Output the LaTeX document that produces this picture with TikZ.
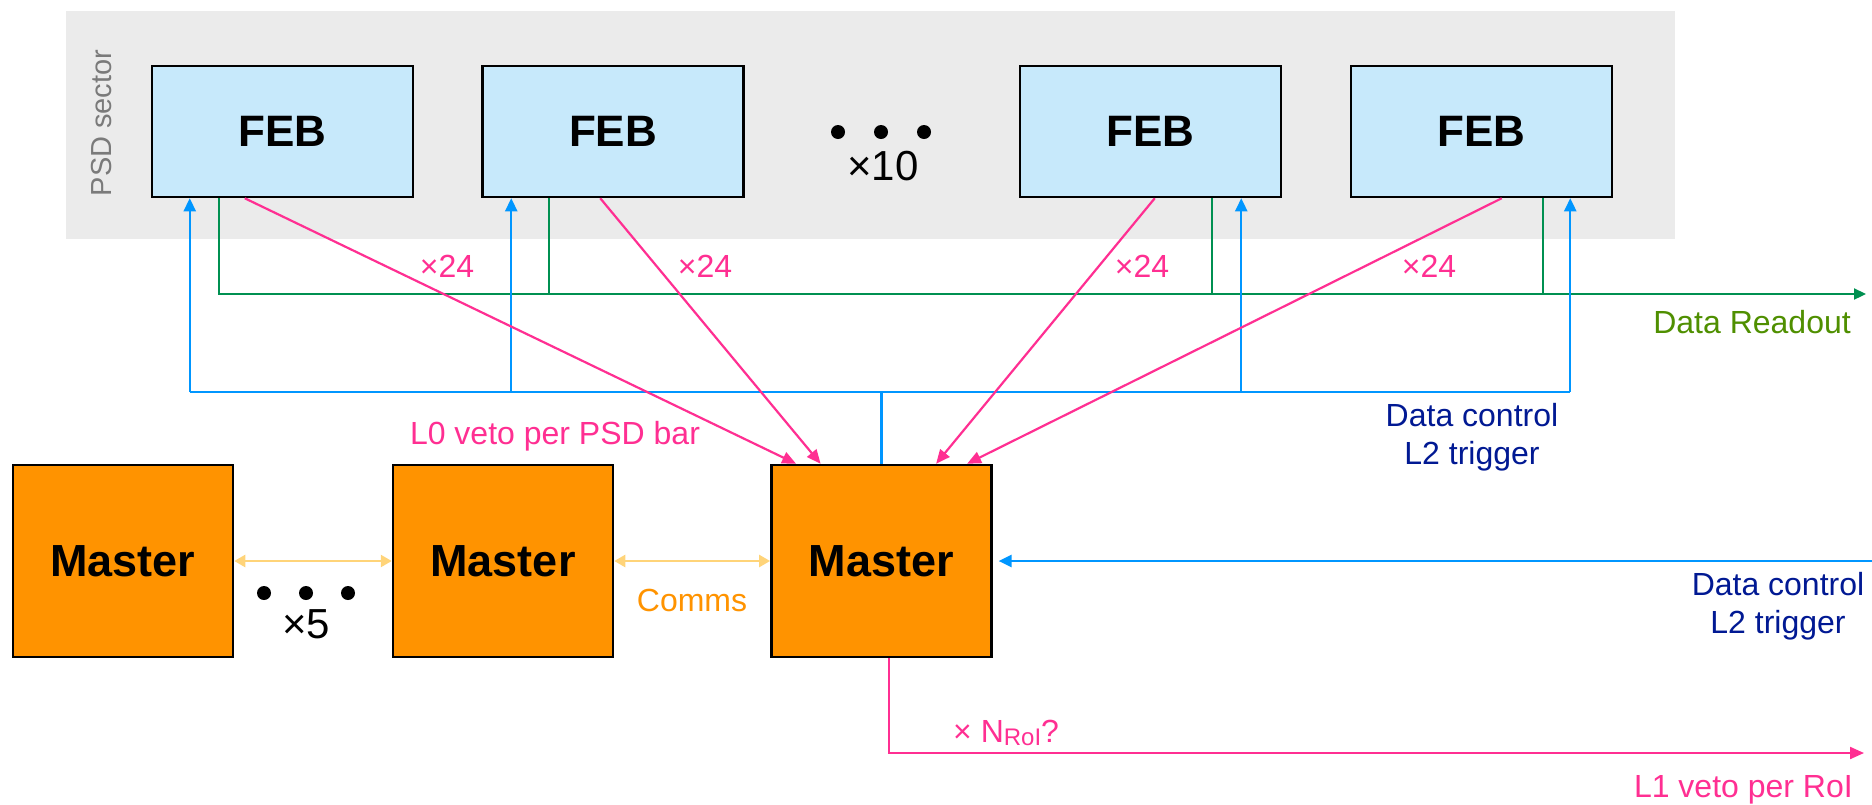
\documentclass[tikz,border=0pt]{standalone}
\usepackage{fontspec}
\setmainfont{Liberation Sans}
\usetikzlibrary{arrows.meta}

\definecolor{bggray}{HTML}{EBEBEB}
\definecolor{febblue}{HTML}{C7E9FB}
\definecolor{mstorange}{HTML}{FF9300}
\definecolor{pinkline}{HTML}{FF2F92}
\definecolor{blueline}{HTML}{0096FF}
\definecolor{greenline}{HTML}{009051}
\definecolor{greentext}{HTML}{4F8F00}
\definecolor{navytext}{HTML}{011993}
\definecolor{commsline}{HTML}{FFD479}
\definecolor{sectorgray}{HTML}{7A7A7A}

\tikzset{
  febbox/.style={draw=black, line width=2.5pt, fill=febblue, minimum width=261pt, minimum height=131pt,
    inner sep=0pt, font=\fontsize{44}{50}\selectfont\bfseries},
  masterbox/.style={draw=black, line width=2.5pt, fill=mstorange, minimum width=220pt, minimum height=192pt,
    inner sep=0pt, font=\fontsize{45}{50}\selectfont\bfseries},
  lbl/.style={inner sep=0pt, font=\fontsize{32}{38}\selectfont},
  big/.style={inner sep=0pt, font=\fontsize{42}{48}\selectfont},
  pinkarrow/.style={draw=pinkline, line width=2.2pt, -{Triangle[length=14pt,width=12pt]}},
  bluearrow/.style={draw=blueline, line width=2.3pt, -{Triangle[length=13pt,width=12pt]}},
  blueline/.style={draw=blueline, line width=2.3pt},
  greenline/.style={draw=greenline, line width=2.2pt},
  commsarrow/.style={draw=commsline, line width=2.4pt, {Triangle[length=11pt,width=12pt]}-{Triangle[length=11pt,width=12pt]}},
  dot/.style={circle, fill=black, inner sep=0pt, minimum size=14pt}
}

\begin{document}
\begin{tikzpicture}[x=1pt, y=-1pt]
  \useasboundingbox (0,0) rectangle (1872,804);

  % sector background
  \fill[bggray] (66,11) rectangle (1675,239);
  \node[lbl, rotate=90, text=sectorgray, font=\fontsize{29}{34}\selectfont] (sector) at (102,123) {PSD sector};

  % front-end boards
  \node[febbox] (feb1) at (282.5,131.5) {FEB};
  \node[febbox] (feb2) at (613,131.5) {FEB};
  \node[febbox] (feb3) at (1150.5,131.5) {FEB};
  \node[febbox] (feb4) at (1481.5,131.5) {FEB};
  \node[dot] (fd1) at (838,132) {};
  \node[dot] (fd2) at (881,132) {};
  \node[dot] (fd3) at (924,132) {};
  \node[big] (x10) at (883,166) {×10};

  % master boards
  \node[masterbox] (m1) at (123,561) {Master};
  \node[masterbox] (m2) at (503,561) {Master};
  \node[masterbox] (m3) at (881.35,561) {Master};
  \node[dot] (md1) at (264,593) {};
  \node[dot] (md2) at (306,593) {};
  \node[dot] (md3) at (348,593) {};
  \node[big] (x5) at (306,624) {×5};

  % attachment points on the boards
  \coordinate (g1) at ([xshift=68pt]feb1.south west);
  \coordinate (g2) at ([xshift=68pt]feb2.south west);
  \coordinate (g3) at ([xshift=193pt]feb3.south west);
  \coordinate (g4) at ([xshift=193pt]feb4.south west);
  \coordinate (b1) at ([xshift=39pt]feb1.south west);
  \coordinate (b2) at ([xshift=30pt]feb2.south west);
  \coordinate (b3) at ([xshift=222.5pt]feb3.south west);
  \coordinate (b4) at ([xshift=220.5pt]feb4.south west);
  \coordinate (p1) at ([xshift=94pt]feb1.south west);
  \coordinate (p2) at ([xshift=119pt]feb2.south west);
  \coordinate (p3) at ([xshift=136pt]feb3.south west);
  \coordinate (p4) at ([xshift=152pt]feb4.south west);
  \coordinate (q1) at ([xshift=26pt]m3.north west);
  \coordinate (q2) at ([xshift=50.5pt]m3.north west);
  \coordinate (q3) at ([xshift=166pt]m3.north west);
  \coordinate (q4) at ([xshift=197pt]m3.north west);
  \coordinate (readout) at (1866,294);
  \coordinate (ctrlbus) at (882,392);
  \coordinate (ctrlin) at (1872,561);
  \coordinate (l1out) at ([xshift=7.6pt]m3.south);
  \coordinate (l1end) at (1864,753);

  % data readout bus
  \draw[greenline, -{Triangle[length=12pt,width=11pt]}] (g1) |- (readout);
  \draw[greenline] (g2) -- (g2 |- readout);
  \draw[greenline] (g3) -- (g3 |- readout);
  \draw[greenline] (g4) -- (g4 |- readout);

  % data control bus
  \draw[blueline] (b1 |- ctrlbus) -- (b4 |- ctrlbus);
  \draw[blueline] (m3.north) -- (m3.north |- ctrlbus);
  \draw[bluearrow] (b1 |- ctrlbus) -- (b1);
  \draw[bluearrow] (b2 |- ctrlbus) -- (b2);
  \draw[bluearrow] (b3 |- ctrlbus) -- (b3);
  \draw[bluearrow] (b4 |- ctrlbus) -- (b4);
  \draw[bluearrow] (ctrlin) -- ([xshift=6pt]m3.east);

  % L0 vetoes
  \draw[pinkarrow] (p1) -- (q1);
  \draw[pinkarrow] (p2) -- (q2);
  \draw[pinkarrow] (p3) -- (q3);
  \draw[pinkarrow] (p4) -- (q4);

  % L1 veto output
  \draw[pinkarrow] (l1out) |- (l1end);

  % master-to-master links
  \draw[commsarrow] (m1.east) -- (m2.west);
  \draw[commsarrow] (m2.east) -- (m3.west);

  % labels
  \node[lbl, text=pinkline] (n24a) at (447,266) {×24};
  \node[lbl, text=pinkline] (n24b) at (705,266) {×24};
  \node[lbl, text=pinkline] (n24c) at (1142,266) {×24};
  \node[lbl, text=pinkline] (n24d) at (1429,266) {×24};
  \node[lbl, text=pinkline] (l0lbl) at (555,436) {L0 veto per PSD bar};
  \node[lbl, text=mstorange] (comms) at (692,600) {Comms};
  \node[lbl, text=greentext, anchor=base east] (readlbl) at (1851,333) {Data Readout};
  \node[lbl, text=navytext, align=center] (ctrl1) at (1472,437) {Data control\\L2 trigger};
  \node[lbl, text=navytext, align=center] (ctrl2) at (1778,606) {Data control\\L2 trigger};
  \node[lbl, text=pinkline, anchor=base west] (nroi) at (953,742)
    {× N\raisebox{-3pt}{\fontsize{24}{28}\selectfont RoI}?};
  \node[lbl, text=pinkline, anchor=base east] (l1lbl) at (1853,797) {L1 veto per RoI};
\end{tikzpicture}
\end{document}
